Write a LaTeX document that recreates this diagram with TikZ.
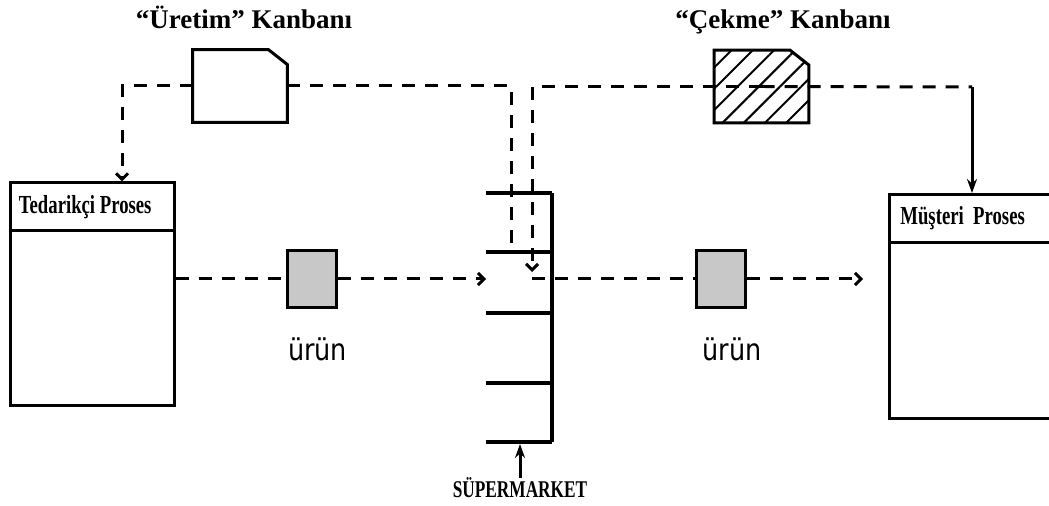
\documentclass[tikz,border=0pt]{standalone}
\usepackage{fontspec}
\setmainfont{Liberation Serif}
\newfontfamily\narrowserif[FakeStretch=0.72]{Liberation Serif}
\newfontfamily\itemfont[FakeStretch=0.85]{DejaVu Sans}
\usepackage{xcolor}
\usepackage{tikz}
\usetikzlibrary{arrows.meta, positioning, calc, patterns.meta}

\definecolor{itemgray}{RGB}{200,200,200}

\begin{document}
\begin{tikzpicture}[
    x=0.5pt, y=-0.5pt,
    >={Straight Barb[length=3pt, width=6pt]},
    title/.style={font=\bfseries\fontsize{13.5}{16}\selectfont, inner sep=0pt},
    kanban/.style={rectangle, minimum width=47pt, minimum height=36pt, inner sep=0pt},
    cardline/.style={line width=1.5pt, line join=miter},
    procbox/.style={rectangle, draw, line width=1.5pt, minimum width=82pt, minimum height=111.5pt, inner sep=0pt},
    prochead/.style={rectangle, draw, line width=1.5pt, minimum height=24pt, inner sep=0pt},
    proclabel/.style={font=\narrowserif\bfseries\fontsize{13}{15}\selectfont, inner sep=0pt},
    item/.style={rectangle, draw, line width=1.5pt, fill=itemgray, minimum width=24.5pt, minimum height=28.5pt, inner sep=0pt},
    itemlbl/.style={font=\itemfont\fontsize{15}{18}\selectfont, inner sep=1pt},
    smlabel/.style={font=\narrowserif\bfseries\fontsize{12}{14}\selectfont, inner sep=0pt},
    flow/.style={dash pattern=on 6.5pt off 5pt, line width=1.5pt},
    solidarrow/.style={line width=1.5pt, -{Stealth[length=7pt, width=5pt]}},
    shelf/.style={line width=2pt}
]
\useasboundingbox (0,0) rectangle (1049,506);
\clip (0,0) rectangle (1049,506);

% ------------------------------------------------------------
% kanban cards (corner cut at the top right)
% ------------------------------------------------------------
\node[title, anchor=base] (uretimTitle) at (244,29) {“Üretim” Kanbanı};
\node[title, anchor=base] (cekmeTitle)  at (783,29) {“Çekme” Kanbanı};

\node[kanban] (uretim) at (240,86) {};
\node[kanban] (cekme)  at (761.5,86.5) {};

\draw[cardline, fill=white] (uretim.south west) -- (uretim.north west) -- ($(uretim.north east)+(-19,0)$)
    -- ($(uretim.north east)+(0,15)$) -- (uretim.south east) -- cycle;
\draw[cardline, pattern={Lines[angle=45, distance=7.5pt, line width=1pt]}] (cekme.south west) -- (cekme.north west)
    -- ($(cekme.north east)+(-19,0)$) -- ($(cekme.north east)+(0,15)$) -- (cekme.south east) -- cycle;

% ------------------------------------------------------------
% processes
% ------------------------------------------------------------
\node[procbox] (tedarikci) at (92,294.5) {};
\node[prochead, minimum width=82pt, anchor=north] (tedarikciHead) at (tedarikci.north) {};
\node[proclabel, anchor=west] (tedarikciLbl) at ([xshift=5pt]tedarikciHead.west) {Tedarikçi Proses};

% customer box runs on past the right margin
\node[procbox, minimum width=200pt, minimum height=112pt, anchor=north west] (musteri) at (888,193) {};
\node[prochead, minimum width=200pt, anchor=north] (musteriHead) at (musteri.north) {};
\node[proclabel, anchor=west] (musteriLbl) at ([xshift=6pt]musteriHead.west) {Müşteri\ \ Proses};

% ------------------------------------------------------------
% products
% ------------------------------------------------------------
\node[item] (urun1) at (311.5,279) {};
\node[item] (urun2) at (721,279) {};
\node[itemlbl, below=13pt of urun1, xshift=3pt]   (urun1Lbl) {ürün};
\node[itemlbl, below=13pt of urun2, xshift=5.5pt] (urun2Lbl) {ürün};

% ------------------------------------------------------------
% supermarket
% ------------------------------------------------------------
\draw[shelf] (552,193) -- (552,442);
\foreach \y [count=\i] in {193,252,313,383,442}
    \draw[shelf] (552,\y) -- (486,\y) coordinate (s\i);

\node[smlabel, anchor=base] (smLbl) at (520,498) {SÜPERMARKET};
\draw[solidarrow, shorten >=1pt] (smLbl.north) -- (smLbl.north |- s5);

% ------------------------------------------------------------
% kanban loops
% ------------------------------------------------------------
\coordinate (retour) at (511,252);
\coordinate (drop)   at (532,272);
\coordinate (turn)   at (972,87);

\draw[flow, ->] (uretim.west) -| ($(tedarikci.north)+(30,0)$);
\draw[flow] (uretim.east) -| (retour);
\draw[flow, ->] (cekme.center) -| (drop);
\draw[flow] (cekme.center) -- (turn);
\draw[solidarrow] (turn) -- (turn |- musteri.north);

% ------------------------------------------------------------
% material flow
% ------------------------------------------------------------
\draw[flow] (tedarikci.east |- urun1.west) -- (urun1.west);
\draw[flow, ->] (urun1.east) -- (s2 |- urun1.east);
\draw[flow] (drop |- urun2.west) -- (urun2.west);
\draw[flow, ->] (urun2.east) -- ($(musteri.west |- urun2.east)+(-25,0)$);

\end{tikzpicture}
\end{document}
